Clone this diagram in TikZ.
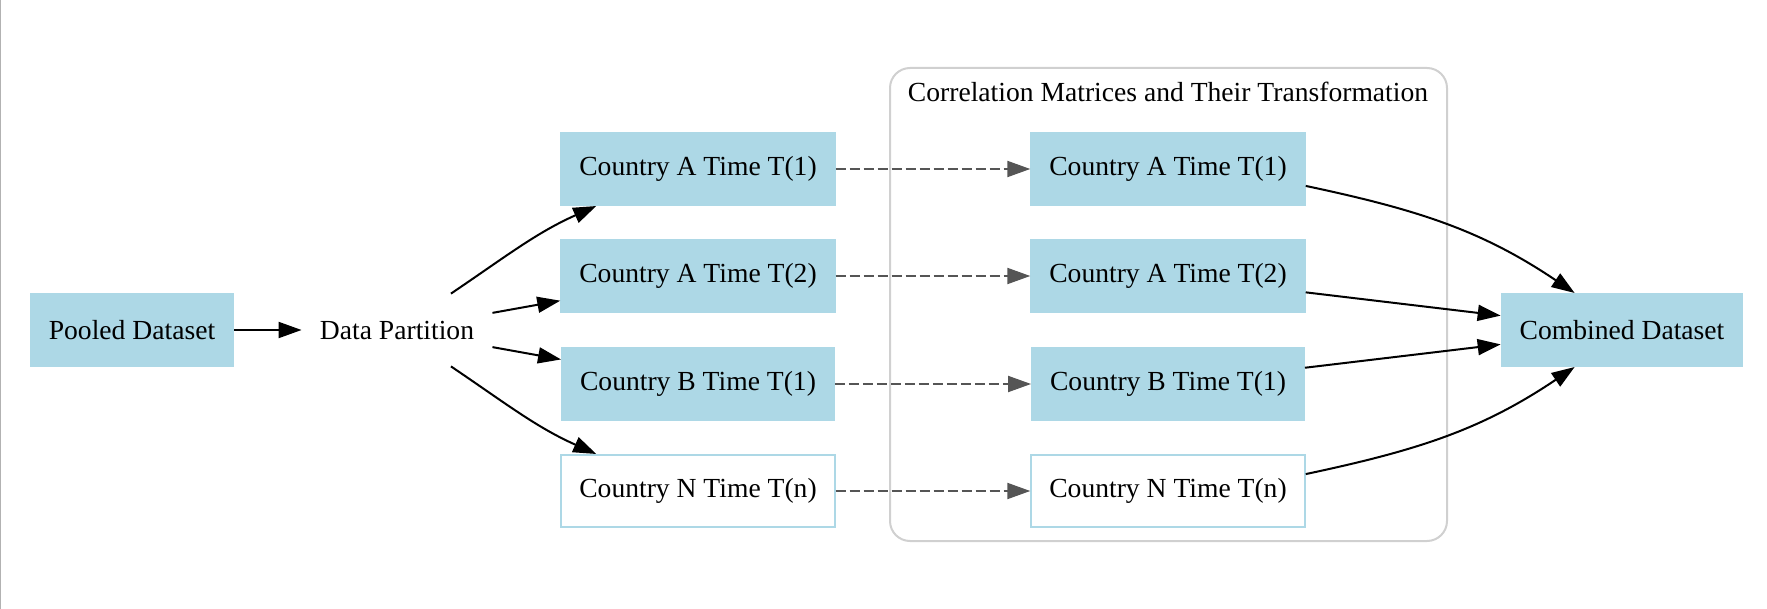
\documentclass[tikz,border=0pt]{standalone}
\usepackage{fontspec}
\setmainfont{Liberation Serif}
\usetikzlibrary{arrows.meta}
\definecolor{lightblue}{HTML}{ADD8E6}
\definecolor{clustergray}{HTML}{D0D0D0}
\definecolor{dashgray}{HTML}{555555}

\begin{document}
\begin{tikzpicture}[x=0.5pt, y=0.5pt,
    every node/.style={font=\fontsize{13.8}{16}\selectfont, minimum height=36pt, inner xsep=9pt},
    box/.style={fill=lightblue, draw=lightblue, line width=1pt},
    openbox/.style={fill=white, draw=lightblue, line width=1pt},
    edge/.style={line width=1pt, -{Triangle[length=11.5pt,width=8pt]}},
    dedge/.style={edge, dashgray, dash pattern=on 5pt off 2pt}]
        \useasboundingbox (0,0) rectangle (1767,-609);
        \draw [gray!60, line width=0.5pt] (0.5,0) -- (0.5,-609);
        %\draw [help lines] (0,0) grid (1767,-609);

        % cluster
        \draw [clustergray, line width=1pt, rounded corners=10pt] (890,-68) rectangle (1447,-541);
        \node (clabel) at (1168,-92) {Correlation Matrices and Their Transformation};

        \node [box] (pool) at (132,-330) {Pooled Dataset};
        \node (dp) at (397,-330) {Data Partition};

        \node [box] (a1) at (698,-169) {Country A Time T(1)};
        \node [box] (a2) at (698,-276) {Country A Time T(2)};
        \node [box] (b1) at (698,-384) {Country B Time T(1)};
        \node [openbox] (n1) at (698,-491) {Country N Time T(n)};

        \node [box] (ca1) at (1168,-169) {Country A Time T(1)};
        \node [box] (ca2) at (1168,-276) {Country A Time T(2)};
        \node [box] (cb1) at (1168,-384) {Country B Time T(1)};
        \node [openbox] (cn1) at (1168,-491) {Country N Time T(n)};

        \node [box] (comb) at (1622,-330) {Combined Dataset};

        \draw [edge] (pool) -- (dp);
        \draw [edge] (dp) to[out=34,in=204] ([xshift=18pt]a1.south west);
        \draw [edge] (dp) -- (a2);
        \draw [edge] (dp) -- (b1);
        \draw [edge] (dp) to[out=-34,in=156] ([xshift=18pt]n1.north west);

        \draw [dedge] (a1) -- (ca1);
        \draw [dedge] (a2) -- (ca2);
        \draw [dedge] (b1) -- (cb1);
        \draw [dedge] (n1) -- (cn1);

        \draw [edge] (ca1.-7) to[out=-12,in=146] (comb.142);
        \draw [edge] (ca2) -- (comb);
        \draw [edge] (cb1) -- (comb);
        \draw [edge] (cn1.7) to[out=12,in=-146] (comb.-142);
\end{tikzpicture}
\end{document}
